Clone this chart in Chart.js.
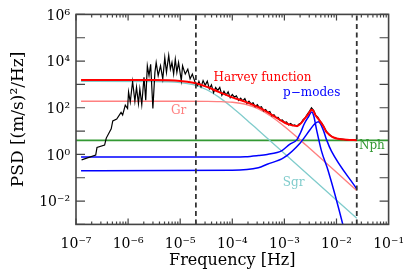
<!DOCTYPE html>
<html>
<head>
<meta charset="utf-8">
<script src="https://cdn.jsdelivr.net/npm/chart.js@4.4.0/dist/chart.umd.min.js"></script>
<style>
  body { margin: 0; background: #fff; }
  canvas { display: block; }
</style>
</head>
<body>
<canvas id="psdChart" width="416" height="277"></canvas>
<script>
// observed spectrum (black)
const specFreq = [1.28e-7, 2.39e-7, 2.53e-7, 3.54e-7, 3.81e-7, 4.74e-7, 5.08e-7, 6.05e-7, 7.33e-7, 7.86e-7,
    8.83e-7, 9.77e-7, 1.02e-6, 1.10e-6, 1.22e-6, 1.35e-6, 1.45e-6, 1.58e-6, 1.68e-6, 1.83e-6,
    2.02e-6, 2.18e-6, 2.34e-6, 2.52e-6, 2.71e-6, 2.99e-6, 3.27e-6, 3.46e-6, 3.78e-6, 4.19e-6,
    4.63e-6, 5.06e-6, 5.45e-6, 6.02e-6, 6.48e-6, 6.95e-6, 7.48e-6, 8.05e-6, 8.63e-6, 9.30e-6,
    1.05e-5, 1.11e-5, 1.25e-5, 1.40e-5, 1.55e-5, 1.71e-5, 1.93e-5, 2.16e-5,
    2.29e-5, 2.51e-5, 2.75e-5, 3.02e-5, 3.31e-5, 3.63e-5, 3.98e-5, 4.37e-5, 4.79e-5, 5.25e-5,
    5.75e-5, 6.31e-5, 6.92e-5, 7.59e-5, 8.32e-5, 9.12e-5, 1.00e-4, 1.10e-4, 1.20e-4, 1.32e-4,
    1.45e-4, 1.58e-4, 1.74e-4, 1.91e-4, 2.09e-4, 2.29e-4, 2.51e-4, 2.75e-4, 3.02e-4, 3.31e-4,
    3.63e-4, 3.98e-4, 4.37e-4, 4.79e-4, 5.25e-4, 5.75e-4, 6.31e-4, 6.92e-4, 7.59e-4, 8.32e-4,
    9.12e-4, 1.00e-3, 1.10e-3, 1.20e-3, 1.32e-3, 1.45e-3, 1.58e-3, 1.74e-3, 1.91e-3, 2.09e-3,
    2.29e-3, 2.51e-3, 2.75e-3, 3.02e-3, 3.31e-3, 3.63e-3, 3.98e-3, 4.37e-3, 4.79e-3, 5.25e-3,
    5.75e-3, 6.31e-3, 6.92e-3, 7.59e-3, 8.32e-3, 9.12e-3, 1.00e-2, 1.58e-2, 2.45e-2];
const specPsd = [0.58, 0.93, 2.0, 2.5, 5.0, 12.5, 27, 33, 63, 49,
    129, 93, 469, 177, 1325, 190, 762, 150, 646, 136,
    2014, 209, 6270, 2375, 7330, 93, 3270, 8650, 2375, 6270,
    1710, 14060, 3270, 17580, 4510, 8650, 2770, 11900, 3270, 8650,
    1460, 6270, 2770, 4510, 1710, 2770, 1240, 899,
    1360, 786, 1454, 916, 1378, 643, 960, 446, 731, 550,
    740, 343, 513, 352, 479, 272, 372, 285, 323, 204,
    255, 196, 245, 154, 192, 146, 163, 111, 135, 101,
    110, 73.5, 83.4, 63.9, 68.3, 45, 50.3, 38.1, 38.9, 28.3,
    30.2, 23.3, 24.4, 18.5, 21.1, 17.3, 18.4, 15.7, 20.1, 22,
    30.9, 36.6, 51.8, 69.6, 99.5, 78.2, 48.3, 39.7, 27.5, 21.2,
    14.7, 10.2, 7.8, 6.7, 5.6, 5.15, 4.84, 4.21, 4.06];

// total Harvey fit (red)
const harveyFreq = [1.25e-7, 3.16e-6, 1.0e-5, 1.78e-5, 3.16e-5, 5.62e-5, 1.0e-4, 1.78e-4, 3.16e-4, 5.62e-4,
    1.0e-3, 1.26e-3, 1.58e-3, 1.74e-3, 1.91e-3, 2.09e-3, 2.29e-3, 2.51e-3, 2.75e-3, 3.02e-3,
    3.31e-3, 3.63e-3, 3.98e-3, 4.37e-3, 4.79e-3, 5.25e-3, 5.75e-3, 6.31e-3, 6.92e-3, 7.59e-3,
    8.32e-3, 9.12e-3, 1.0e-2, 1.58e-2, 2.45e-2];
const harveyPsd = [1545, 1529, 1398, 1167, 800, 466, 278, 180, 106, 51.1,
    23.3, 18.8, 16.7, 16.5, 18.2, 22, 28, 36.6, 47, 63.2,
    82, 71, 46, 36, 27.5, 20.2, 14.7, 9.7, 7.8, 6.4,
    5.6, 5.15, 4.84, 4.21, 4.06];

// supergranulation (cyan)
const sgrFreq = [1.25e-7, 3.16e-6, 1.0e-5, 1.78e-5, 3.16e-5, 5.62e-5, 1.0e-4, 1.78e-4, 3.16e-4, 1.0e-3, 2.45e-2];
const sgrPsd = [1350, 1334, 1203, 973, 607, 277, 102, 34, 10.9, 1.10, 0.00183];

// granulation (pink)
const grFreq = [1.25e-7, 1.0e-5, 3.16e-5, 5.62e-5, 1.0e-4, 1.78e-4, 3.16e-4, 5.62e-4, 1.0e-3, 1.78e-3, 3.16e-3, 1.0e-2, 2.45e-2];
const grPsd = [190, 189.8, 187.9, 183.5, 171, 140.5, 90, 42.1, 15.7, 5.25, 1.69, 0.171, 0.0284];

// p-mode components (blue)
const pmodeAFreq = [1.25e-7, 1.0e-4, 1.78e-4, 3.16e-4, 4.68e-4, 7.24e-4, 9.12e-4, 1.26e-3, 1.74e-3, 2.04e-3,
    2.40e-3, 2.88e-3, 3.34e-3, 3.65e-3, 4.16e-3, 5.16e-3, 6.92e-3, 1.33e-2, 1.68e-2];
const pmodeAPsd = [0.77, 0.78, 0.8, 0.9, 1.0, 1.2, 1.5, 2.7, 4.3, 8.5,
    20, 40, 65, 45, 11, 1.38, 0.2, 0.00094, 0.0001];
const pmodeBFreq = [1.25e-7, 1.0e-4, 3.16e-4, 4.68e-4, 9.77e-4, 2.01e-3, 3.10e-3, 3.72e-3, 4.48e-3, 5.56e-3,
    6.43e-3, 8.0e-3, 2.45e-2];
const pmodeBPsd = [0.2, 0.21, 0.27, 0.38, 0.72, 3.1, 11.3, 19, 25, 11.3,
    4.3, 1.38, 0.033];

// photon noise (green)
const nphFreq = [1e-7, 1e-1];
const nphPsd = [4, 4];

const cutoffFreqs = [2.0e-5, 2.45e-2];
const xTickExps = [-7, -6, -5, -4, -3, -2, -1];
const yTickExps = [-3, -2, -1, 0, 1, 2, 3, 4, 5, 6];

const SUP = { '-': '⁻', '0': '⁰', '1': '¹', '2': '²', '3': '³', '4': '⁴', '5': '⁵', '6': '⁶', '7': '⁷', '8': '⁸', '9': '⁹' };
function powLabel(v) {
    const e = Math.round(Math.log10(v));
    return '10' + String(e).split('').map(c => SUP[c]).join('');
}

function pairs(xs, ys) {
    return xs.map((x, i) => ({ x: x, y: ys[i] }));
}

function curve(label, xs, ys, color, width, order, smooth) {
    return {
        label: label,
        data: pairs(xs, ys),
        borderColor: color,
        borderWidth: width,
        pointRadius: 0,
        showLine: true,
        fill: false,
        order: order,
        cubicInterpolationMode: smooth ? 'monotone' : 'default',
        tension: 0
    };
}

const datasets = [
    curve('Harvey function', harveyFreq, harveyPsd, '#ff0000', 2, 1, true),
    curve('spectrum', specFreq, specPsd, '#000000', 1.2, 2, false),
    curve('p-mode 1', pmodeAFreq, pmodeAPsd, '#0000ff', 1.5, 3, true),
    curve('p-mode 2', pmodeBFreq, pmodeBPsd, '#0000ff', 1.5, 3, true),
    curve('Gr', grFreq, grPsd, '#ff8080', 1.4, 4, true),
    curve('Sgr', sgrFreq, sgrPsd, '#80cccc', 1.3, 5, true),
    curve('Nph', nphFreq, nphPsd, '#339933', 1.6, 6, false)
];
cutoffFreqs.forEach(f => {
    datasets.push({
        label: 'cutoff',
        data: [{ x: f, y: 1e-3 }, { x: f, y: 1e6 }],
        borderColor: '#333333',
        borderWidth: 1.8,
        borderDash: [5, 3.5],
        pointRadius: 0,
        showLine: true,
        order: 0
    });
});

const labels = [
    { text: 'Harvey function', x: 3.8e-4, y: 2000, color: '#ff0000' },
    { text: 'p−modes', x: 3.34e-3, y: 437, color: '#0000ff' },
    { text: 'Gr', x: 9.3e-6, y: 74, color: '#ff8080' },
    { text: 'Sgr', x: 1.5e-3, y: 0.063, color: '#80cccc' },
    { text: 'Nph', x: 4.77e-2, y: 2.24, color: '#339933' }
];

const frameTicks = {
    id: 'frameTicks',
    afterDatasetsDraw(chart) {
        const { ctx, chartArea: a, scales: { x, y } } = chart;
        ctx.save();
        ctx.strokeStyle = '#444';
        ctx.lineWidth = 1.2;
        ctx.beginPath();
        for (let e = -7; e < -1; e++) {
            for (let m = 1; m < 10; m++) {
                const px = x.getPixelForValue(m * Math.pow(10, e));
                const len = m === 1 ? 6 : 3;
                ctx.moveTo(px, a.bottom); ctx.lineTo(px, a.bottom - len);
                ctx.moveTo(px, a.top); ctx.lineTo(px, a.top + len);
            }
        }
        yTickExps.forEach(e => {
            const py = y.getPixelForValue(Math.pow(10, e));
            ctx.moveTo(a.left, py); ctx.lineTo(a.left + 9, py);
            ctx.moveTo(a.right, py); ctx.lineTo(a.right - 9, py);
        });
        ctx.stroke();
        ctx.lineWidth = 1.6;
        ctx.strokeRect(a.left, a.top, a.width, a.height);

        ctx.font = '12px "DejaVu Serif"';
        ctx.textAlign = 'center';
        ctx.textBaseline = 'middle';
        labels.forEach(l => {
            ctx.fillStyle = l.color;
            ctx.fillText(l.text, x.getPixelForValue(l.x), y.getPixelForValue(l.y));
        });
        ctx.restore();
    }
};

new Chart(document.getElementById('psdChart'), {
    type: 'scatter',
    data: { datasets: datasets },
    options: {
        responsive: false,
        animation: false,
        devicePixelRatio: 1,
        layout: { padding: { left: 0, top: 11, right: 23, bottom: 0 } },
        plugins: { legend: { display: false }, tooltip: { enabled: false } },
        scales: {
            x: {
                type: 'logarithmic',
                min: 1e-7,
                max: 1e-1,
                grid: { display: false, drawTicks: false },
                border: { display: false },
                afterBuildTicks: s => { s.ticks = xTickExps.map(e => ({ value: Math.pow(10, e) })); },
                afterFit: s => { s.height = 52.6; },
                ticks: {
                    autoSkip: false,
                    maxRotation: 0,
                    padding: 12,
                    color: '#000',
                    font: { family: 'DejaVu Serif', size: 14 },
                    callback: v => powLabel(v)
                },
                title: {
                    display: true,
                    text: 'Frequency [Hz]',
                    color: '#000',
                    font: { family: 'DejaVu Serif', size: 16, lineHeight: 1 },
                    padding: { top: 0, bottom: 8 }
                }
            },
            y: {
                type: 'logarithmic',
                min: 1e-3,
                max: 1e6,
                grid: { display: false, drawTicks: false },
                border: { display: false },
                afterBuildTicks: s => { s.ticks = yTickExps.map(e => ({ value: Math.pow(10, e) })); },
                afterFit: s => { s.width = 76; },
                ticks: {
                    autoSkip: false,
                    padding: 6,
                    labelOffset: 1.5,
                    color: '#000',
                    font: { family: 'DejaVu Serif', size: 14 },
                    callback: v => {
                        const e = Math.round(Math.log10(v));
                        return e % 2 === 0 ? powLabel(v) : '';
                    }
                },
                title: {
                    display: true,
                    text: 'PSD [(m/s)²/Hz]',
                    color: '#000',
                    font: { family: 'DejaVu Serif', size: 17, lineHeight: 1 },
                    padding: { top: 10, bottom: 0 }
                }
            }
        }
    },
    plugins: [frameTicks]
});
</script>
</body>
</html>
